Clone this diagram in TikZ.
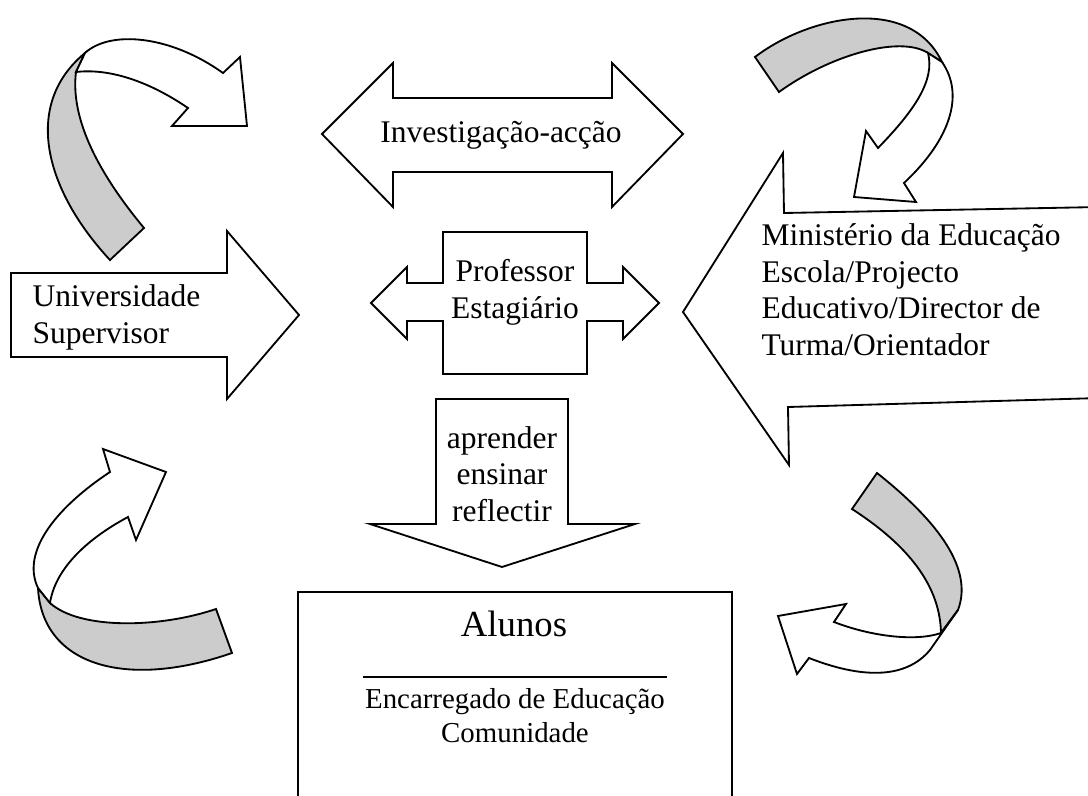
\documentclass[tikz,border=0pt]{standalone}
\usepackage{fontspec}
\setmainfont{Liberation Serif}
\usetikzlibrary{positioning}
\definecolor{foldgrey}{HTML}{CCCCCC}

\begin{document}
\begin{tikzpicture}[x=0.381pt, y=-0.381pt,
    blk/.style={draw, line width=0.7pt, fill=white, line join=miter},
    fold/.style={draw, line width=0.7pt, fill=foldgrey},
    txt/.style={inner sep=0pt, font=\fontsize{12}{13.9}\selectfont}]
    \useasboundingbox (0, 0) rectangle (1088, 796);
    \clip (0, 0) rectangle (1088, 796);

    % block arrows
    \draw[blk] (322, 134) -- (393, 63) -- (393, 98) -- (612, 98) -- (612, 63) -- (683, 134)
        -- (612, 207) -- (612, 172) -- (393, 172) -- (393, 207) -- cycle;
    \draw[blk] (371, 303) -- (407, 267) -- (407, 283) -- (443, 283) -- (443, 232) -- (587, 232)
        -- (587, 283) -- (623, 283) -- (623, 267) -- (659, 303) -- (623, 339) -- (623, 321)
        -- (587, 321) -- (587, 374) -- (443, 374) -- (443, 321) -- (407, 321) -- (407, 339) -- cycle;
    \draw[blk] (436, 399) -- (568, 399) -- (568, 524) -- (635, 524) -- (502, 567)
        -- (370, 524) -- (436, 524) -- cycle;
    \draw[blk] (11, 273) -- (227, 273) -- (227, 231) -- (299, 315) -- (227, 399)
        -- (227, 357) -- (11, 357) -- cycle;
    \draw[blk] (683, 312) -- (783, 153) -- (784, 213) -- (1100, 207) -- (1100, 398)
        -- (788, 407) -- (789, 465) -- cycle;
    \draw[blk] (298, 592) rectangle (732, 830);

    % curved arrows, top left
    \draw[fold] (110, 260) .. controls (45, 190) and (22, 105) .. (85, 53)
        -- (76, 72) .. controls (70, 120) and (100, 175) .. (144, 228) -- cycle;
    \draw[blk] (85, 53) .. controls (110, 30) and (170, 35) .. (223, 73) -- (240, 57)
        -- (247, 126) -- (172, 126) -- (188, 108) .. controls (150, 82) and (110, 68) .. (76, 72) -- cycle;
    % top right
    \draw[fold] (755, 57) .. controls (810, 15) and (910, -5) .. (942, 62)
        -- (928, 53) .. controls (900, 35) and (830, 55) .. (779, 92) -- cycle;
    \draw[blk] (942, 62) .. controls (965, 95) and (950, 140) .. (904, 183) -- (916, 202)
        -- (854, 197) -- (866, 131) -- (878, 148) .. controls (915, 110) and (935, 80) .. (928, 53) -- cycle;
    % bottom left
    \draw[fold] (38, 588) .. controls (42, 665) and (125, 690) .. (232, 653)
        -- (216, 609) .. controls (160, 628) and (80, 630) .. (50, 603) -- cycle;
    \draw[blk] (110, 472) .. controls (60, 505) and (20, 550) .. (38, 588)
        -- (50, 603) .. controls (55, 570) and (85, 540) .. (128, 517) -- (136, 540)
        -- (166, 472) -- (103, 449) -- cycle;
    % bottom right
    \draw[fold] (877, 473) .. controls (930, 515) and (975, 565) .. (958, 610)
        -- (941, 633) .. controls (940, 580) and (900, 540) .. (852, 509) -- cycle;
    \draw[blk] (958, 610) -- (930, 650) .. controls (905, 680) and (860, 678) .. (809, 658)
        -- (797, 674) -- (778, 616) -- (846, 604) -- (834, 622)
        .. controls (870, 636) and (915, 642) .. (941, 633) -- cycle;

    % labels (base = last line)
    \node[txt, anchor=base] (inv) at (501, 142) {Investigação-acção};
    \node[txt, anchor=base, align=center] (prof) at (515, 318) {Professor\\Estagiário};
    \node[txt, anchor=base, align=center] (verbs) at (502, 521) {aprender\\ensinar\\reflectir};
    \node[txt, anchor=base west, align=left] (univ) at (32, 343) {Universidade\\Supervisor};
    \node[txt, anchor=base west, align=left] (min) at (761, 355)
        {Ministério da Educação\\Escola/Projecto\\Educativo/Director de\\Turma/Orientador};
    \node[txt, anchor=base, font=\fontsize{14}{16}\selectfont] (alunos) at (514, 636) {Alunos};
    \draw[line width=0.4pt] (363, 677) -- (667, 677);
    \node[txt, anchor=base, align=center, font=\fontsize{11}{12.7}\selectfont] (enc) at (515, 742)
        {Encarregado de Educação\\Comunidade};
\end{tikzpicture}
\end{document}
